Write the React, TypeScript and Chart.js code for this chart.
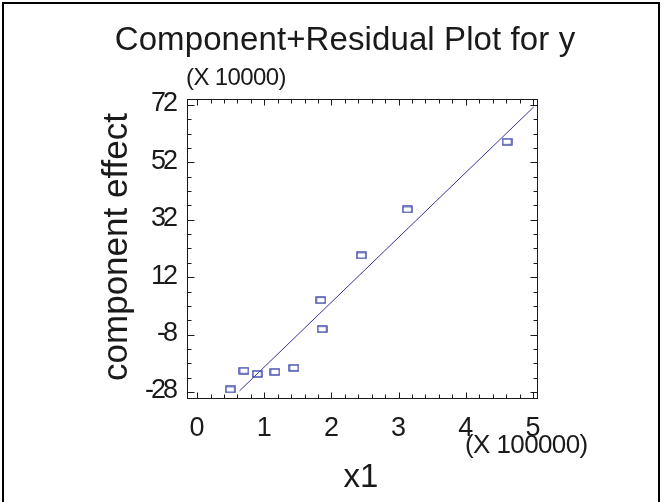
import React, { useEffect, useRef } from 'react';
import { Chart, registerables } from 'chart.js';

Chart.register(...registerables);

// Labels
const titleText = 'Component+Residual Plot for y';
const xTitle = 'x1';
const yTitle = 'component effect';
const xScaleNote = '(X 100000)';
const yScaleNote = '(X 10000)';

// Observations: x1 in units of 100000, component effect in units of 10000
const x1Values = [0.495, 0.698, 0.896, 1.159, 1.441, 1.842, 1.862, 2.446, 3.13, 4.615];
const effectValues = [-27.1, -20.6, -21.7, -21.0, -19.6, 4.0, -6.1, 19.6, 35.6, 59.2];

// Fitted component line end points
const fitX = [0.633, 5.01];
const fitY = [-27.6, 71.3];

// Axis ticks
const xTicks = [0, 1, 2, 3, 4, 5];
const yTicks = [-28, -8, 12, 32, 52, 72];
const xMinorStep = 0.2;
const yMinorStep = 5;

const FONT = '"Liberation Sans", Arial, Helvetica, sans-serif';
const INK = '#1a1a1a';
const MARK = '#3a44a6';
const LINE = '#34349c';

function makeMarker(): HTMLCanvasElement {
  const c = document.createElement('canvas');
  c.width = 11;
  c.height = 8;
  const g = c.getContext('2d')!;
  g.strokeStyle = MARK;
  g.lineWidth = 1.4;
  g.strokeRect(1, 1, 9, 6);
  return c;
}

function text(
  ctx: CanvasRenderingContext2D,
  s: string,
  x: number,
  y: number,
  size: number,
  spacing: number,
  align: CanvasTextAlign,
  baseline: CanvasTextBaseline = 'alphabetic',
) {
  ctx.font = `${size}px ${FONT}`;
  (ctx as any).letterSpacing = `${spacing}px`;
  ctx.textAlign = align;
  ctx.textBaseline = baseline;
  ctx.fillText(s, x, y);
}

const decor = {
  id: 'decor',
  beforeDraw(chart: any) {
    const { ctx } = chart;
    ctx.save();
    ctx.fillStyle = '#fff';
    ctx.fillRect(0, 0, chart.width, chart.height);
    ctx.restore();
  },
  afterDraw(chart: any) {
    const { ctx, chartArea: a } = chart;
    const xs = chart.scales.x;
    const ys = chart.scales.y;
    ctx.save();

    // page frame
    ctx.strokeStyle = '#000';
    ctx.lineWidth = 2;
    ctx.strokeRect(3, 3, chart.width - 6, chart.height + 20);

    // plot frame
    const L = Math.round(a.left) + 0.5;
    const R = Math.round(a.right) + 0.5;
    const T = Math.round(a.top) + 0.5;
    const B = Math.round(a.bottom) + 0.5;
    ctx.strokeStyle = INK;
    ctx.lineWidth = 1;
    ctx.strokeRect(L, T, R - L, B - T);

    // inward ticks on all four sides
    ctx.beginPath();
    for (let v = xTicks[0]; v <= xTicks[xTicks.length - 1] + 1e-9; v += xMinorStep) {
      const major = xTicks.some((t) => Math.abs(t - v) < 1e-6);
      const len = major ? 6 : 4;
      const px = Math.round(xs.getPixelForValue(v)) + 0.5;
      ctx.moveTo(px, B);
      ctx.lineTo(px, B - len);
      ctx.moveTo(px, T);
      ctx.lineTo(px, T + len);
    }
    for (let v = yTicks[0]; v <= yTicks[yTicks.length - 1] + 1e-9; v += yMinorStep) {
      const major = yTicks.some((t) => Math.abs(t - v) < 1e-6);
      const len = major ? 7 : 4;
      const py = Math.round(ys.getPixelForValue(v)) + 0.5;
      ctx.moveTo(L, py);
      ctx.lineTo(L + len, py);
      ctx.moveTo(R, py);
      ctx.lineTo(R - len, py);
    }
    ctx.stroke();

    ctx.fillStyle = INK;

    // tick labels
    xTicks.forEach((v) => text(ctx, String(v), xs.getPixelForValue(v), 429, 27, 0, 'center', 'middle'));
    yTicks.forEach((v) => text(ctx, String(v), 175, ys.getPixelForValue(v) - 1, 27, -3, 'right', 'middle'));

    // title
    text(ctx, titleText, 345, 50, 33, 0.1, 'center');

    // scale notes
    text(ctx, yScaleNote, 186, 85, 24, -0.6, 'left');
    text(ctx, xScaleNote, 465, 453, 26, -0.6, 'left');

    // axis titles
    text(ctx, xTitle, 361, 487, 33, 0, 'center');

    ctx.save();
    ctx.translate(127, 247);
    ctx.rotate(-Math.PI / 2);
    text(ctx, yTitle, 0, 0, 35, 0, 'center');
    ctx.restore();

    ctx.restore();
  },
};

export default function App() {
  const ref = useRef<HTMLCanvasElement>(null);

  useEffect(() => {
    document.body.style.margin = '0';
    const canvas = ref.current;
    if (!canvas) return;
    const marker = makeMarker();
    const chart = new Chart(canvas, {
      type: 'scatter',
      data: {
        datasets: [
          {
            type: 'line',
            data: fitX.map((x, i) => ({ x, y: fitY[i] })),
            borderColor: LINE,
            borderWidth: 1,
            pointRadius: 0,
            fill: false,
            order: 2,
          } as any,
          {
            type: 'scatter',
            data: x1Values.map((x, i) => ({ x, y: effectValues[i] })),
            pointStyle: marker as any,
            pointRadius: 5,
            order: 1,
          },
        ],
      },
      options: {
        responsive: false,
        animation: false,
        events: [],
        layout: { padding: { left: 187, right: 125, top: 99, bottom: 104 } },
        plugins: { legend: { display: false }, title: { display: false }, tooltip: { enabled: false } },
        scales: {
          x: { type: 'linear', min: -0.15, max: 5.06, display: false },
          y: { type: 'linear', min: -30.1, max: 74.1, display: false },
        },
      },
      plugins: [decor],
    });
    return () => chart.destroy();
  }, []);

  return (
    <div style={{ width: 662, height: 502 }}>
      <canvas ref={ref} width={662} height={502} />
    </div>
  );
}
